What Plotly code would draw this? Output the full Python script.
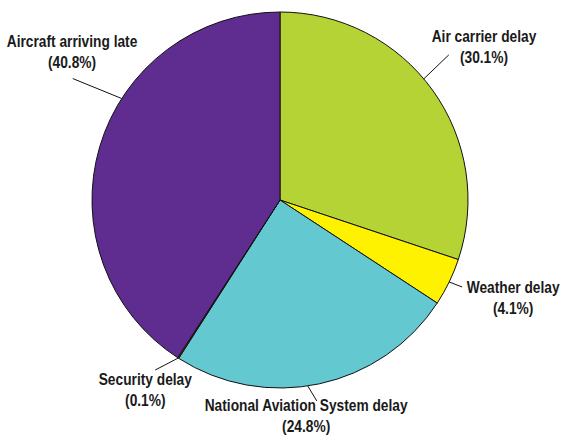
import math
import plotly.graph_objects as go

# ---- data ----
labels = ["Air carrier delay", "Weather delay", "National Aviation System delay",
          "Security delay", "Aircraft arriving late"]
values = [30.1, 4.1, 24.8, 0.1, 40.8]
pct_text = ["30.1%", "4.1%", "24.8%", "0.1%", "40.8%"]

# ---- style / layout ----
colors = ["#b5d334", "#fff200", "#63c8d0", "#c0392b", "#5f2d8f"]
W, H = 561, 435
CX, CY, R = 280, 200, 188
# fraction along slice where the leader line touches, offset of line end, label centre (px)
anchor_frac = [0.46, 0.5, 0.54, 0.5, 0.61]
line_off = [(25, -24), (13, 5), (9, 15), (-23, 12), (-49, -20)]
label_pos = [(484, 47), (513, 298), (306, 416), (145, 390), (72, 52)]
FONT = "Liberation Sans, Arial, sans-serif"

fig = go.Figure(go.Pie(
    labels=labels, values=values, sort=False, direction="clockwise", rotation=0,
    marker=dict(colors=colors, line=dict(color="#111111", width=1)),
    textinfo="none", hoverinfo="label+percent", showlegend=False,
    domain=dict(x=[(CX - R) / W, (CX + R) / W], y=[1 - (CY + R) / H, 1 - (CY - R) / H]),
))

total = sum(values)
cum = 0.0
shapes, annots = [], []
for i, v in enumerate(values):
    a0 = cum / total * 360
    a1 = (cum + v) / total * 360
    cum += v
    ang = math.radians(a0 + anchor_frac[i] * (a1 - a0))
    px, py = CX + R * math.sin(ang), CY - R * math.cos(ang)
    ex, ey = px + line_off[i][0], py + line_off[i][1]
    shapes.append(dict(type="line", xref="paper", yref="paper",
                       x0=px / W, y0=1 - py / H, x1=ex / W, y1=1 - ey / H,
                       line=dict(color="#111111", width=1)))
    lx, ly = label_pos[i]
    annots.append(dict(xref="paper", yref="paper", x=lx / W, y=1 - ly / H,
                       xanchor="center", yanchor="middle", showarrow=False,
                       text=f"<b>{labels[i]}<br>({pct_text[i]})</b>", align="center",
                       font=dict(family=FONT, size=16, color="#1a1a1a")))

fig.update_layout(width=W, height=H, margin=dict(l=0, r=0, t=0, b=0),
                  paper_bgcolor="white", plot_bgcolor="white",
                  shapes=shapes, annotations=annots)

post = """
document.body.style.margin = '0';
var gd = document.getElementById('{plot_id}');
function narrow() {
  document.querySelectorAll('.annotation-text').forEach(function (t) {
    t.style.transformBox = 'fill-box';
    t.style.transformOrigin = 'center';
    t.style.transform = 'scaleX(0.86)';
  });
}
narrow();
gd.on('plotly_afterplot', narrow);
"""
fig.write_html("out.html", post_script=post, config={"displayModeBar": False})
